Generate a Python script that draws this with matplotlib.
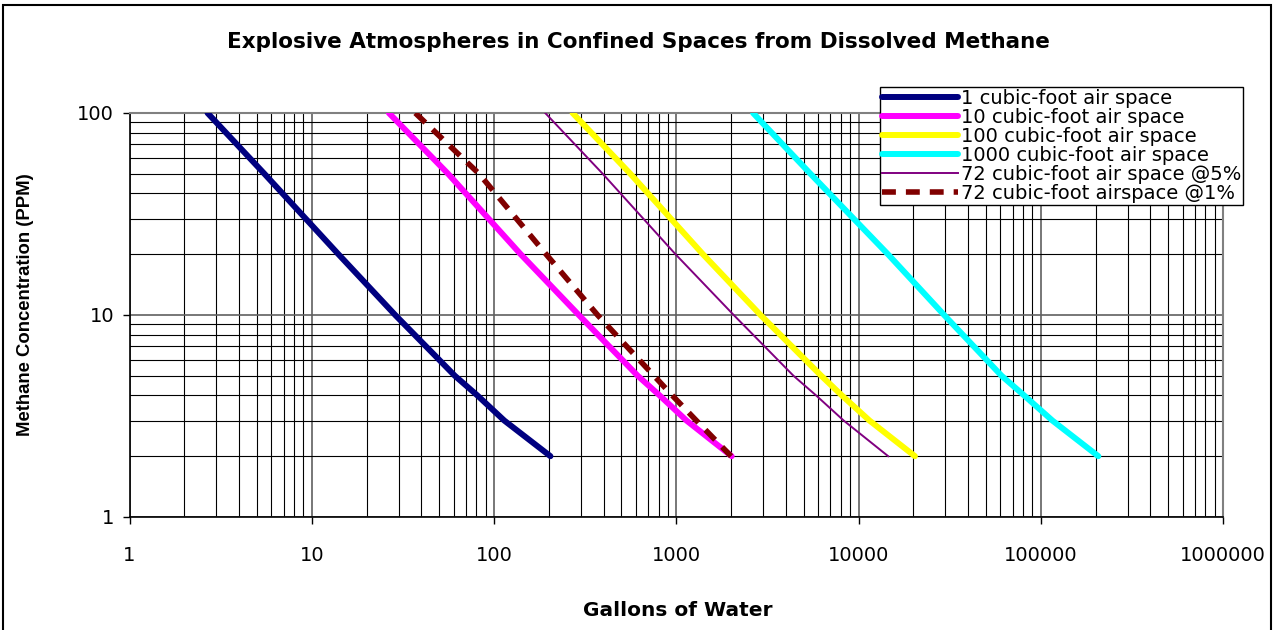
import numpy as np
import matplotlib
matplotlib.use("Agg")
import matplotlib.pyplot as plt
from matplotlib.patches import Rectangle
from matplotlib.ticker import LogLocator, FixedLocator, NullFormatter

plt.rcParams['font.family'] = ['DejaVu Sans']

# methane concentration (PPM) at which each curve was read
ppm = [100, 50, 20, 10, 5, 4, 3, 2]

# gallons of water for each air-space curve
gal_1 = [2.68, 5.5, 14.0, 28.7, 61, 81, 114, 204]
gal_10 = [26.5, 56, 140, 292, 615, 810, 1140, 2014]
gal_100 = [270, 560, 1400, 2900, 6250, 8100, 11500, 20400]
gal_1000 = [2640, 5450, 14500, 29500, 61000, 81000, 116000, 207000]
gal_72_5 = [191, 395, 990, 2066, 4400, 5850, 8300, 14550]
gal_72_1 = [37, 82.8, 193, 370, 755, 950, 1290, 2000]

labels = ['1 cubic-foot air space', '10 cubic-foot air space',
          '100 cubic-foot air space', '1000 cubic-foot air space',
          '72 cubic-foot air space @5%', '72 cubic-foot airspace @1%']

x_ticks = [1, 10, 100, 1000, 10000, 100000, 1000000]
y_ticks = [1, 10, 100]

W, H = 1276, 630
fig = plt.figure(figsize=(W / 100, H / 100), dpi=100)
ax = fig.add_axes([129.5 / W, 1 - 517 / H, (1223 - 129.5) / W, (517 - 113) / H])

ax.plot(gal_1, ppm, color='#000080', lw=4.3, solid_capstyle='round', label=labels[0], zorder=3)
ax.plot(gal_10, ppm, color='#FF00FF', lw=4.3, solid_capstyle='round', label=labels[1], zorder=3)
ax.plot(gal_100, ppm, color='#FFFF00', lw=4.3, solid_capstyle='round', label=labels[2], zorder=3)
ax.plot(gal_1000, ppm, color='#00FFFF', lw=4.3, solid_capstyle='round', label=labels[3], zorder=3)
ax.plot(gal_72_5, ppm, color='#800080', lw=1.4, label=labels[4], zorder=3)
ax.plot(gal_72_1, ppm, color='#800000', lw=4.0, ls=(0, (2.5, 1.8)), label=labels[5], zorder=3)

ax.set_xscale('log')
ax.set_yscale('log')
ax.set_xlim(1, 1000000)
ax.set_ylim(1, 100)

ax.xaxis.set_major_locator(FixedLocator(x_ticks))
ax.yaxis.set_major_locator(FixedLocator(y_ticks))
ax.set_xticklabels([str(v) for v in x_ticks])
ax.set_yticklabels([str(v) for v in y_ticks])
ax.xaxis.set_minor_locator(LogLocator(base=10, subs=np.arange(2, 10), numticks=20))
ax.yaxis.set_minor_locator(LogLocator(base=10, subs=np.arange(2, 10), numticks=20))
ax.xaxis.set_minor_formatter(NullFormatter())
ax.yaxis.set_minor_formatter(NullFormatter())

ax.grid(which='major', color='#606060', lw=1.2)
ax.grid(which='minor', color='#000000', lw=0.8)
ax.tick_params(which='major', direction='out', length=5, width=1, labelsize=14)
ax.tick_params(axis='x', pad=16)
ax.tick_params(axis='y', pad=6)
ax.tick_params(which='minor', length=0)

for s in ['top', 'right']:
    ax.spines[s].set_color('#808080')
    ax.spines[s].set_linewidth(1.5)
for s in ['left', 'bottom']:
    ax.spines[s].set_color('#000000')
    ax.spines[s].set_linewidth(1.2)

fig.text(638 / W, 1 - 42 / H, 'Explosive Atmospheres in Confined Spaces from Dissolved Methane',
         ha='center', va='center', fontsize=15.5, fontweight='bold')
fig.text(678 / W, 1 - 610 / H, 'Gallons of Water', ha='center', va='center',
         fontsize=14.5, fontweight='bold')
fig.text(26 / W, 1 - 305 / H, 'Methane Concentration (PPM)', ha='center', va='center',
         rotation=90, fontsize=13.3, fontweight='bold', family='Liberation Sans')

leg = ax.legend(loc='upper left', bbox_to_anchor=(880 / W, 1 - 87 / H),
                bbox_transform=fig.transFigure, fontsize=14, frameon=True,
                fancybox=False, framealpha=1, edgecolor='black', borderpad=0.1,
                handlelength=3.9, handletextpad=0.15, labelspacing=0.0, borderaxespad=0)
leg.get_frame().set_linewidth(1.0)
leg.set_zorder(5)

fig.patches.append(Rectangle((3 / W, -0.05), (1268 / W), 1 - 5 / H + 0.05,
                             transform=fig.transFigure, fill=False, ec='black', lw=1.5))

fig.savefig('out.png', dpi=100)
